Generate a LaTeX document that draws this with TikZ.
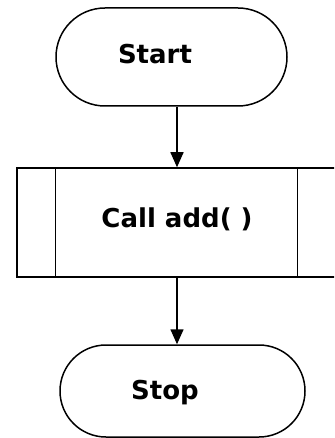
\documentclass[tikz,border=0pt]{standalone}
\usepackage{fontspec}
\setmainfont{DejaVu Sans}
\usetikzlibrary{shapes.misc,arrows.meta}
\begin{document}
\begin{tikzpicture}[x=1pt,y=1pt,
  term/.style={draw,line width=1.5pt,rounded rectangle,inner sep=0pt},
  proc/.style={draw,line width=1.5pt,rectangle,inner sep=0pt},
  lbl/.style={font=\bfseries\fontsize{26}{31}\selectfont},
  arr/.style={line width=1.5pt,-{Triangle[length=15pt,width=13pt]}}]
\useasboundingbox (0,0) rectangle (334,-438);
\clip (0,0) rectangle (334,-438);
\node[term,minimum width=231pt,minimum height=98pt] (start) at (171.5,-57) {};
\node[lbl] (starttxt) at (155,-54) {Start};
\node[proc,minimum width=323pt,minimum height=109pt] (call) at (178.5,-222.5) {};
\node[lbl] (calltxt) at (177,-219) {Call add( )};
\draw[line width=1.5pt] (call.north west) ++(39,0) coordinate (l1) -- (l1 |- call.south);
\draw[line width=1.5pt] (call.north west) ++(281,0) coordinate (r1) -- (r1 |- call.south);
\node[term,minimum width=245pt,minimum height=92pt] (stop) at (182.5,-391) {};
\node[lbl] (stoptxt) at (165,-393) {Stop};
\draw[arr] (start.south -| 177,0) coordinate (a1) (a1) -- (a1 |- call.north);
\draw[arr] (call.south -| 177,0) coordinate (a2) (a2) -- (a2 |- stop.north);
\end{tikzpicture}
\end{document}
